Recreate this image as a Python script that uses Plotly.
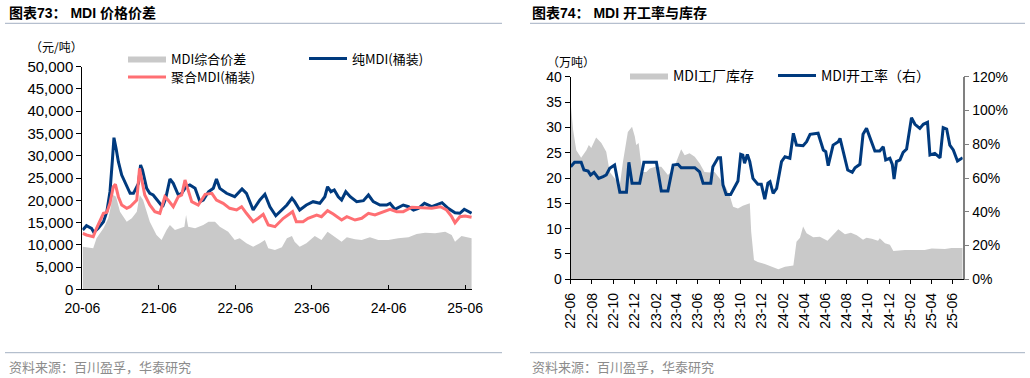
import plotly.graph_objects as go

# ---------------- Left chart: MDI price & spread (元/吨) ----------------
pure_dates = ["2020-06-03","2020-06-21","2020-07-15","2020-07-26","2020-08-16","2020-09-10","2020-09-26",
              "2020-10-11","2020-10-22","2020-10-30","2020-11-09","2020-11-20","2020-12-06","2020-12-30",
              "2021-01-15","2021-01-31","2021-02-13","2021-02-24","2021-03-06","2021-03-15","2021-04-04",
              "2021-04-19","2021-05-05","2021-05-29","2021-06-19","2021-07-04","2021-07-24","2021-08-09",
              "2021-09-02","2021-09-18","2021-10-09","2021-10-27","2021-11-21","2021-12-14","2021-12-30",
              "2022-01-24","2022-02-16","2022-03-03","2022-03-19","2022-04-20","2022-05-29","2022-07-03",
              "2022-07-24","2022-08-25","2022-09-26","2022-10-20","2022-11-13","2022-12-11","2023-01-09",
              "2023-02-02","2023-02-26","2023-03-11","2023-04-04","2023-05-06","2023-06-07","2023-07-09",
              "2023-08-02","2023-08-15","2023-08-31","2023-09-16","2023-10-05","2023-10-21","2023-11-10",
              "2023-12-01","2024-01-01","2024-02-02","2024-02-26","2024-03-20","2024-04-21","2024-05-23",
              "2024-06-08","2024-07-01","2024-08-10","2024-09-04","2024-09-28","2024-10-21","2024-11-19",
              "2024-12-24","2025-02-11","2025-03-12","2025-04-14","2025-05-07","2025-05-28","2025-07-02"]
pure_mdi = [13320,14290,13700,12800,13700,15180,17430,21920,28660,34050,31670,28660,25670,23040,
            21560,21560,22680,23800,27920,26800,22680,21560,21180,19680,18550,20440,24770,23800,
            21180,21560,23040,23430,22680,19680,20060,21920,22680,24770,22680,21560,20800,22530,
            21560,17810,20060,21340,18550,16530,17810,18930,20440,19680,17810,18930,19680,19310,
            20800,23040,21920,22300,20800,20060,21920,20800,19680,19900,21180,19680,18930,18930,
            19310,17970,18930,18550,17810,18190,19310,18550,19450,18190,17200,17070,17970,17070]

poly_dates = ["2020-06-03","2020-06-21","2020-07-23","2020-08-08","2020-09-10","2020-09-26","2020-10-11",
              "2020-10-27","2020-11-06","2020-11-20","2020-12-06","2020-12-30","2021-01-15","2021-01-31",
              "2021-02-16","2021-03-01","2021-03-10","2021-03-26","2021-04-19","2021-05-13","2021-06-06",
              "2021-06-30","2021-07-15","2021-08-09","2021-09-02","2021-09-18","2021-10-04","2021-10-15",
              "2021-11-05","2021-12-06","2022-01-08","2022-02-09","2022-03-03","2022-04-04","2022-05-05",
              "2022-06-07","2022-07-01","2022-07-24","2022-08-25","2022-09-18","2022-10-12","2022-11-05",
              "2022-12-07","2023-01-16","2023-02-09","2023-03-01","2023-03-19","2023-04-20","2023-05-14",
              "2023-06-24","2023-07-17","2023-08-15","2023-09-11","2023-10-21","2023-11-15","2023-12-24",
              "2024-01-25","2024-02-26","2024-03-28","2024-05-15","2024-06-08","2024-07-10","2024-08-10",
              "2024-09-20","2024-11-07","2024-12-24","2025-02-03","2025-03-05","2025-03-29","2025-04-14",
              "2025-05-07","2025-06-01","2025-07-02"]
poly_mdi = [12580,12200,11810,13700,17070,17290,19310,23040,23580,20800,18930,18190,18550,19310,
            20060,27180,24930,21180,18930,17430,17070,20800,20060,18550,20800,21180,24550,23040,
            19680,18930,21340,21560,20060,19310,18190,17810,18550,17070,15180,15950,16840,14440,
            14060,15950,16690,17430,15180,15180,15950,16690,16310,17650,16910,15560,16310,15560,
            15950,17070,16690,17430,17970,17430,17430,18420,18330,18190,18550,17810,16310,14960,
            16310,16460,16170]

spread_dates = ["2020-06-03","2020-07-23","2020-08-08","2020-09-10","2020-10-03","2020-10-27","2020-11-09",
                "2020-11-28","2020-12-30","2021-01-23","2021-02-16","2021-03-02","2021-03-18","2021-04-19",
                "2021-05-21","2021-06-14","2021-07-08","2021-07-24","2021-08-17","2021-09-10","2021-10-01",
                "2021-10-09","2021-10-19","2021-11-21","2021-12-30","2022-01-24","2022-02-24","2022-03-19",
                "2022-04-28","2022-05-29","2022-06-22","2022-07-24","2022-08-25","2022-09-26","2022-10-20",
                "2022-11-05","2022-12-07","2023-01-09","2023-02-02","2023-02-26","2023-03-11","2023-04-04",
                "2023-05-06","2023-06-15","2023-07-17","2023-08-15","2023-09-19","2023-10-21","2023-11-15",
                "2023-12-24","2024-01-25","2024-03-04","2024-04-13","2024-05-31","2024-07-17","2024-09-04",
                "2024-10-13","2024-11-22","2025-01-09","2025-02-26","2025-03-29","2025-04-14","2025-05-15",
                "2025-06-24","2025-07-02"]
mdi_spread = [9570,9210,11450,13700,15950,21180,20800,17430,15180,15950,17430,21180,20060,15180,
              12200,11070,13320,14440,13320,13700,14060,16690,14060,13700,14440,15180,15180,14060,
              12940,11070,11450,10330,9570,10330,11070,9210,8830,9430,11450,11970,10690,9570,
              10330,11970,11070,12940,11680,10690,11680,11230,11070,11680,11070,11070,11450,11680,
              12420,12710,12580,12940,12200,10690,11970,11450,11450]

# ---------------- Right chart: MDI operating rate & factory inventory ----------------
inv_dates = ["2022-06-01","2022-06-08","2022-06-17","2022-07-01","2022-07-16","2022-07-23","2022-07-30",
             "2022-08-13","2022-08-28","2022-09-11","2022-09-21","2022-10-05","2022-10-20","2022-10-29",
             "2022-11-12","2022-11-24","2022-12-02","2022-12-06","2022-12-13","2022-12-23","2023-01-04",
             "2023-01-14","2023-01-30","2023-02-16","2023-03-07","2023-03-22","2023-04-05","2023-04-14",
             "2023-04-24","2023-05-08","2023-05-23","2023-06-06","2023-06-20","2023-07-05","2023-07-19",
             "2023-08-02","2023-08-17","2023-08-31","2023-09-10","2023-09-24","2023-10-08","2023-10-28",
             "2023-11-01","2023-11-09","2023-11-20","2023-12-10","2023-12-30","2024-01-18","2024-02-06",
             "2024-03-01","2024-03-10","2024-03-20","2024-03-29","2024-04-08","2024-04-27","2024-05-16",
             "2024-06-07","2024-06-23","2024-07-08","2024-07-27","2024-08-13","2024-08-30","2024-09-17",
             "2024-09-27","2024-10-12","2024-10-30","2024-11-04","2024-11-19","2024-12-03","2024-12-13",
             "2025-01-15","2025-03-13","2025-04-02","2025-05-10","2025-05-29","2025-06-30"]
inventory = [34.7,29.5,25.5,24.0,25.5,26.5,25.9,28.0,26.9,25.2,21.2,19.9,18.6,23.2,
             29.1,30.1,28.2,26.5,26.9,21.2,21.2,21.9,22.2,22.2,20.6,21.6,23.9,25.7,
             24.5,24.9,24.2,22.9,21.2,21.1,21.2,19.9,18.6,16.6,14.3,14.0,14.5,15.0,
             9.4,3.8,3.4,3.0,2.5,2.0,2.5,2.7,7.4,8.2,10.4,9.1,8.3,8.4,
             7.6,8.9,9.9,8.9,9.2,8.7,7.8,8.2,8.0,7.6,8.1,7.1,6.8,5.6,
             5.8,5.8,6.1,6.0,6.2,6.2]

rate_dates = ["2022-06-01","2022-06-12","2022-07-01","2022-07-09","2022-07-21","2022-07-28","2022-08-07",
              "2022-08-20","2022-09-02","2022-09-11","2022-09-21","2022-10-05","2022-10-20","2022-11-08",
              "2022-11-15","2022-11-24","2022-12-16","2022-12-28","2023-02-02","2023-02-16","2023-03-07",
              "2023-03-22","2023-04-05","2023-04-14","2023-05-23","2023-06-06","2023-06-16","2023-07-08",
              "2023-07-14","2023-07-29","2023-08-05","2023-08-12","2023-08-21","2023-09-03","2023-09-24",
              "2023-10-02","2023-10-08","2023-10-13","2023-10-21","2023-10-28","2023-11-06","2023-11-20",
              "2023-11-30","2023-12-10","2023-12-19","2023-12-25","2024-01-03","2024-01-13","2024-01-27",
              "2024-02-06","2024-02-20","2024-03-01","2024-03-10","2024-03-29","2024-04-08","2024-04-18",
              "2024-05-11","2024-05-26","2024-06-02","2024-06-09","2024-06-23","2024-07-08","2024-07-13",
              "2024-07-22","2024-08-04","2024-08-17","2024-08-25","2024-09-08","2024-09-17","2024-09-27",
              "2024-10-10","2024-10-21","2024-11-04","2024-11-14","2024-11-21","2024-12-03","2024-12-10",
              "2024-12-15","2024-12-22","2025-01-01","2025-01-10","2025-01-20","2025-02-03","2025-02-13",
              "2025-02-27","2025-03-09","2025-03-21","2025-03-28","2025-04-11","2025-04-26","2025-05-05",
              "2025-05-15","2025-05-24","2025-06-03","2025-06-15","2025-06-30"]
op_rate = [0.667,0.693,0.693,0.647,0.641,0.618,0.634,0.598,0.608,0.618,0.657,0.677,0.515,0.515,
           0.693,0.569,0.569,0.693,0.693,0.523,0.523,0.677,0.681,0.661,0.661,0.637,0.569,0.569,
           0.667,0.720,0.720,0.559,0.503,0.503,0.582,0.740,0.736,0.687,0.740,0.697,0.598,0.563,
           0.563,0.475,0.569,0.578,0.509,0.539,0.697,0.726,0.717,0.865,0.795,0.791,0.815,0.859,
           0.865,0.766,0.756,0.673,0.795,0.815,0.835,0.756,0.647,0.634,0.661,0.681,0.859,0.894,
           0.815,0.760,0.760,0.785,0.707,0.717,0.681,0.594,0.697,0.707,0.752,0.772,0.957,0.918,
           0.894,0.918,0.930,0.736,0.746,0.720,0.898,0.890,0.795,0.766,0.701,0.720]

GRAY = "#C9C9C9"
BLUE = "#003A7E"
RED = "#FF6F73"
W, H = 1030, 378
FONT = "Liberation Sans, Arial, Noto Sans CJK SC, sans-serif"
CJK = "Noto Sans CJK SC, Liberation Sans, sans-serif"

def px(x):
    return x / W

def py(y):
    return 1 - y / H

fig = go.Figure()

fig.add_trace(go.Scatter(x=spread_dates, y=mdi_spread, name="MDI综合价差", mode="lines",
                         fill="tozeroy", fillcolor=GRAY, line=dict(width=0, color=GRAY),
                         xaxis="x", yaxis="y", legend="legend"))
fig.add_trace(go.Scatter(x=pure_dates, y=pure_mdi, name="纯MDI(桶装)", mode="lines",
                         line=dict(width=3, color=BLUE), xaxis="x", yaxis="y", legend="legend2"))
fig.add_trace(go.Scatter(x=poly_dates, y=poly_mdi, name="聚合MDI(桶装)", mode="lines",
                         line=dict(width=3, color=RED), xaxis="x", yaxis="y", legend="legend3"))

fig.add_trace(go.Scatter(x=inv_dates, y=inventory, name="MDI工厂库存", mode="lines",
                         fill="tozeroy", fillcolor=GRAY, line=dict(width=0, color=GRAY),
                         xaxis="x2", yaxis="y3", legend="legend4"))
fig.add_trace(go.Scatter(x=rate_dates, y=op_rate, name="MDI开工率（右）", mode="lines",
                         line=dict(width=3, color=BLUE), xaxis="x2", yaxis="y4", legend="legend5"))

tickfont = dict(family=FONT, size=14, color="#000000")

def leg(x, y, size=14):
    return dict(x=px(x), y=py(y), xanchor="left", yanchor="middle",
                font=dict(family=CJK, size=size, color="#000000"),
                bgcolor="rgba(0,0,0,0)", borderwidth=0, itemwidth=38,
                tracegroupgap=0)

common = dict(showgrid=False, zeroline=False, automargin=False)

fig.update_layout(
    width=W, height=H, margin=dict(l=0, r=0, t=0, b=0, autoexpand=False),
    paper_bgcolor="white", plot_bgcolor="white",
    font=dict(family=FONT, size=14, color="#000000"),
    showlegend=True,
    legend=leg(123, 58.5, 13), legend2=leg(304, 58.5, 13), legend3=leg(123, 77, 13),
    legend4=leg(625, 76), legend5=leg(773, 76),
    xaxis=dict(domain=[px(82.3), px(472)], type="date", range=["2020-06-01", "2025-07-04"],
               tick0="2020-06-01", dtick="M12", tickformat="%y-%m", ticks="inside", ticklen=4,
               tickcolor="#000000", showline=True, linecolor="#000000", linewidth=1,
               ticklabelstandoff=6, tickfont=tickfont, anchor="y", **common),
    yaxis=dict(domain=[py(289.3), py(66.7)], range=[0, 50000], dtick=5000, tickformat=",d",
               ticks="outside", ticklen=5, tickcolor="#000000", showline=True, linecolor="#000000",
               linewidth=1, tickfont=dict(family=FONT, size=15, color="#000000"),
               anchor="x", **common),
    xaxis2=dict(domain=[px(570.7), px(962.7)], type="date", range=["2022-06-01", "2025-06-30"],
                tick0="2022-06-01", dtick="M2", tickformat="%y-%m", tickangle=-90, ticks="outside",
                ticklen=4, tickcolor="#000000", showline=True, linecolor="#000000", linewidth=1,
                ticklabelstandoff=3, tickfont=tickfont, anchor="y3", **common),
    yaxis3=dict(domain=[py(279.3), py(76.7)], range=[0, 40], dtick=5, ticks="outside", ticklen=5,
                tickcolor="#000000", showline=True, linecolor="#000000", linewidth=1,
                tickfont=tickfont, anchor="x2", **common),
    yaxis4=dict(domain=[py(279.3), py(76.7)], range=[0, 1.2], dtick=0.2, tickformat=".0%",
                overlaying="y3", side="right", ticks="outside", ticklen=5, tickcolor="#808080",
                showline=True, linecolor="#808080", linewidth=1.5, tickfont=tickfont,
                anchor="x2", **common),
)

ann = []
ann.append(dict(text="<b>图表73： MDI 价格价差</b>", x=px(7), y=py(13), xref="paper", yref="paper",
                xanchor="left", yanchor="middle", showarrow=False,
                font=dict(family=FONT, size=14, color="#000000")))
ann.append(dict(text="<b>图表74： MDI 开工率与库存</b>", x=px(530), y=py(13), xref="paper", yref="paper",
                xanchor="left", yanchor="middle", showarrow=False,
                font=dict(family=FONT, size=14, color="#000000")))
ann.append(dict(text="（元/吨）", x=px(56), y=py(47), xref="paper", yref="paper",
                xanchor="center", yanchor="middle", showarrow=False,
                font=dict(family=CJK, size=12, color="#000000")))
ann.append(dict(text="（万吨）", x=px(571), y=py(61), xref="paper", yref="paper",
                xanchor="center", yanchor="middle", showarrow=False,
                font=dict(family=CJK, size=12, color="#000000")))
for sx in (7, 530):
    ann.append(dict(text="资料来源：百川盈孚，华泰研究", x=px(sx), y=py(366), xref="paper", yref="paper",
                    xanchor="left", yanchor="middle", showarrow=False,
                    font=dict(family=CJK, size=13, color="#8C8C8C")))
fig.update_layout(annotations=ann)

shapes = []
for x0, x1 in ((5, 502), (530, 1025)):
    for yy in (23.3, 352.7):
        shapes.append(dict(type="line", xref="paper", yref="paper", x0=px(x0), x1=px(x1),
                           y0=py(yy), y1=py(yy), line=dict(color="#A3B0C2", width=1)))
fig.update_layout(shapes=shapes)

fig.write_html("out.html", config={"displayModeBar": False},
               post_script="document.body.style.margin='0px';document.body.style.overflow='hidden';")
